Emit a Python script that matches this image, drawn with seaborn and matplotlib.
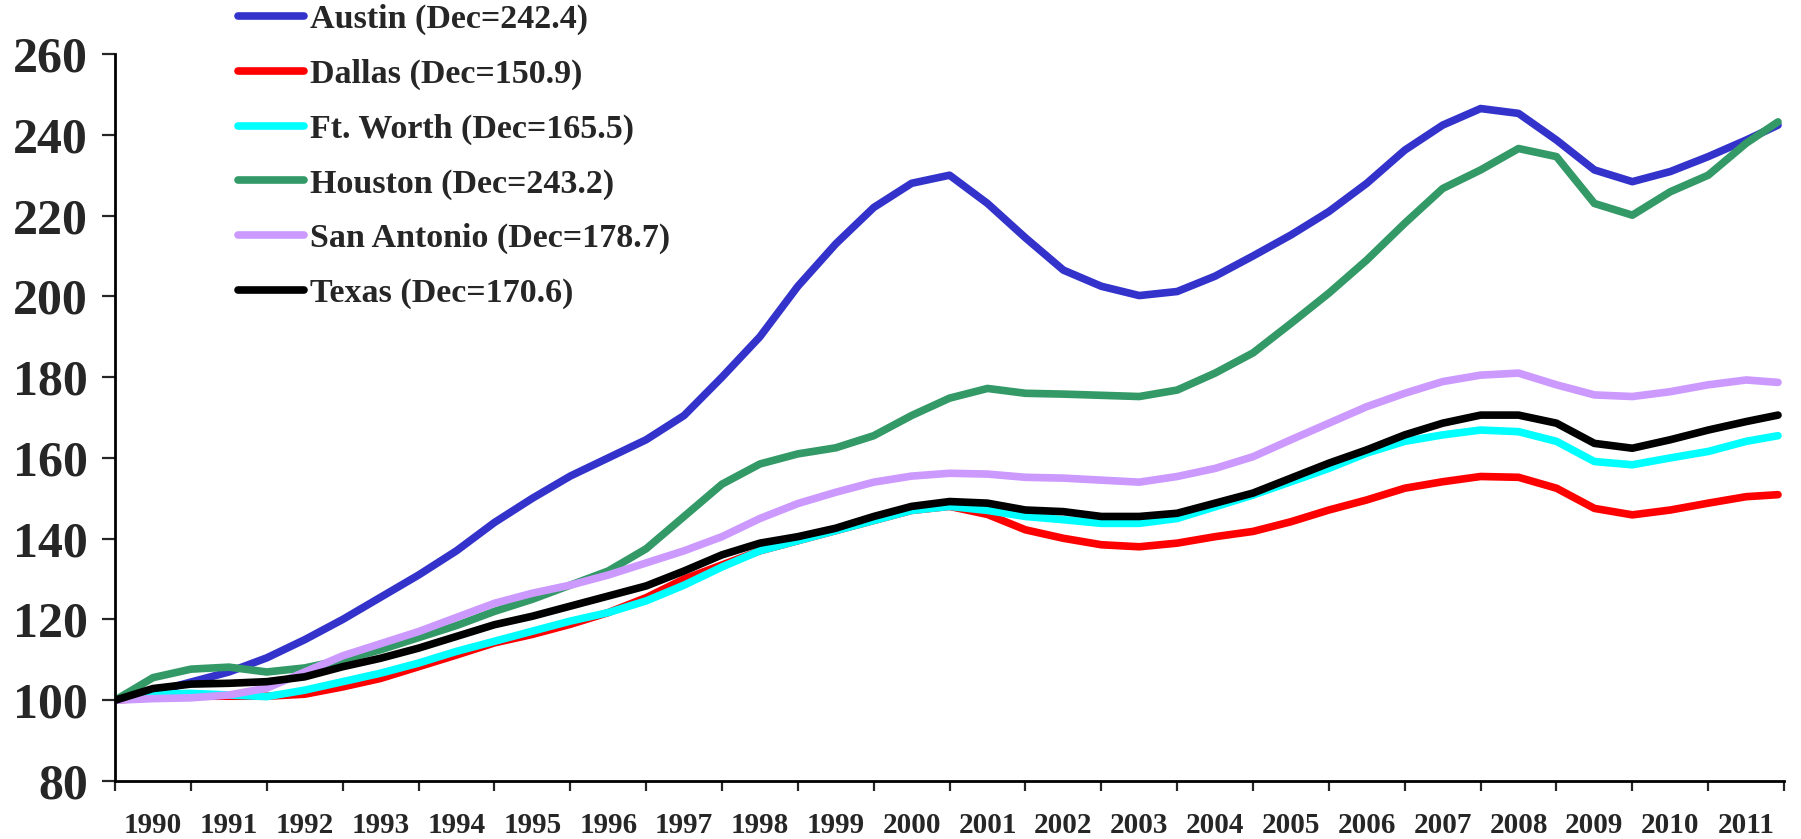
import numpy as np
import pandas as pd
import matplotlib
matplotlib.use("Agg")
import matplotlib.pyplot as plt
import seaborn as sns

# Half-yearly readings of the monthly index (Jan 1990 = 100), last point = Dec 2011
years = [1990.0, 1990.5, 1991.0, 1991.5, 1992.0, 1992.5, 1993.0, 1993.5, 1994.0, 1994.5,
         1995.0, 1995.5, 1996.0, 1996.5, 1997.0, 1997.5, 1998.0, 1998.5, 1999.0, 1999.5,
         2000.0, 2000.5, 2001.0, 2001.5, 2002.0, 2002.5, 2003.0, 2003.5, 2004.0, 2004.5,
         2005.0, 2005.5, 2006.0, 2006.5, 2007.0, 2007.5, 2008.0, 2008.5, 2009.0, 2009.5,
         2010.0, 2010.5, 2011.0, 2011.5, 2011.92]

austin = [100, 102, 104.5, 107, 110.5, 115, 120, 125.5, 131, 137,
          144, 150, 155.5, 160, 164.5, 170.5, 180, 190, 202.5, 213,
          222, 228, 230, 223, 214.5, 206.5, 202.5, 200.2, 201.2, 205,
          210, 215.2, 221, 228, 236.2, 242.4, 246.5, 245.3, 238.7, 231.3,
          228.4, 230.9, 234.6, 238.7, 242.4]
dallas = [100, 100.8, 101, 101, 101, 101.5, 103.3, 105.4, 108.3, 111.2,
          114.2, 116.3, 118.8, 121.7, 125.4, 130, 133.5, 137, 139.5, 142,
          144.5, 147, 148, 146, 142.2, 140.1, 138.5, 138, 138.9, 140.5,
          141.8, 144.2, 147.1, 149.6, 152.5, 154.1, 155.4, 155.2, 152.5, 147.5,
          145.9, 147.1, 148.8, 150.4, 150.9]
ft_worth = [100, 101.5, 101.7, 101.3, 100.9, 102.5, 104.6, 106.7, 109.2, 112.1,
            114.6, 117.1, 119.6, 121.7, 124.6, 128.5, 133, 137, 139.5, 142,
            144.5, 147, 148, 147, 145.5, 144.7, 143.8, 143.8, 145, 147.9,
            150.8, 154.1, 157.4, 161.2, 164.1, 165.7, 166.9, 166.5, 164.1, 159.1,
            158.3, 160, 161.6, 164.1, 165.5]
houston = [100, 105.6, 107.7, 108.2, 107, 108, 110, 112.5, 115.5, 118.5,
           122, 125, 128.5, 132, 137.5, 145.5, 153.5, 158.5, 161, 162.5,
           165.5, 170.5, 174.8, 177.2, 176, 175.8, 175.5, 175.2, 176.8, 181,
           186, 193.3, 200.8, 209, 218.1, 226.7, 231.3, 236.6, 234.6, 223,
           220.1, 225.9, 230, 237.9, 243.2]
san_antonio = [100, 100.4, 100.6, 101.3, 103, 107, 111, 114, 117, 120.5,
               124, 126.5, 128.5, 131, 134, 137, 140.5, 145, 148.7, 151.5,
               154, 155.5, 156.2, 156, 155.2, 155, 154.5, 154, 155.4, 157.4,
               160.3, 164.5, 168.6, 172.7, 176, 178.9, 180.5, 181, 178.1, 175.6,
               175.2, 176.4, 178.1, 179.3, 178.7]
texas = [100, 102.9, 104, 104.2, 104.6, 105.8, 108.3, 110.4, 112.9, 115.8,
         118.7, 120.8, 123.3, 125.8, 128.3, 132, 136, 138.9, 140.5, 142.6,
         145.5, 148, 149.2, 148.8, 147.1, 146.7, 145.5, 145.5, 146.3, 148.8,
         151.3, 155, 158.7, 162, 165.7, 168.6, 170.6, 170.6, 168.6, 163.6,
         162.4, 164.5, 166.9, 169, 170.6]

cities = ["Austin", "Dallas", "Ft. Worth", "Houston", "San Antonio", "Texas"]
dec_values = [242.4, 150.9, 165.5, 243.2, 178.7, 170.6]
colors = ["#3333CC", "#FF0000", "#00FFFF", "#339966", "#CC99FF", "#000000"]
year_labels = [str(y) for y in range(1990, 2012)]

series = [austin, dallas, ft_worth, houston, san_antonio, texas]
df = pd.concat([pd.DataFrame({"year": years, "index": s, "city": c})
                for c, s in zip(cities, series)], ignore_index=True)

sns.set_style("white")
plt.rcParams['font.family'] = ['Liberation Serif', 'DejaVu Serif']
plt.rcParams['font.weight'] = 'bold'

fig = plt.figure(figsize=(18.01, 8.39), dpi=100)
ax = fig.add_axes([0.0639, 0.0691, 0.9267, 0.8665])

sns.lineplot(data=df, x="year", y="index", hue="city", hue_order=cities,
             palette=dict(zip(cities, colors)), linewidth=5.5, legend=False, ax=ax)

ax.set_xlim(1990, 2012)
ax.set_ylim(80, 260)
ax.set_yticks(np.arange(80, 261, 20))
ax.set_xticks(np.arange(1990, 2013, 1))
ax.set_xticklabels([])
ax.set_xticks(np.arange(1990.5, 2012, 1), minor=True)
ax.set_xticklabels(year_labels, minor=True, fontsize=21, fontweight='bold')
ax.tick_params(axis='x', which='major', direction='out', length=7, width=1.6, bottom=True)
ax.tick_params(axis='x', which='minor', length=0, pad=22)
ax.tick_params(axis='y', direction='out', length=9.5, width=1.6, left=True,
               labelsize=36, pad=10)
for lab in ax.get_yticklabels():
    lab.set_fontweight('bold')

ax.set_xlabel("")
ax.set_ylabel("")
for side in ["top", "right"]:
    ax.spines[side].set_visible(False)
for side in ["left", "bottom"]:
    ax.spines[side].set_color("black")
    ax.spines[side].set_linewidth(2)

labels = [f"{c} (Dec={v})" for c, v in zip(cities, dec_values)]
leg = ax.legend(ax.lines[:len(cities)], labels, loc="upper left",
                bbox_to_anchor=(0.132, 0.995), bbox_transform=fig.transFigure,
                frameon=False, fontsize=24.5, handlelength=1.95, handletextpad=0.17,
                labelspacing=0.69, borderpad=0, borderaxespad=0)
for t in leg.get_texts():
    t.set_fontweight('bold')

fig.savefig("out.png", dpi=100)
